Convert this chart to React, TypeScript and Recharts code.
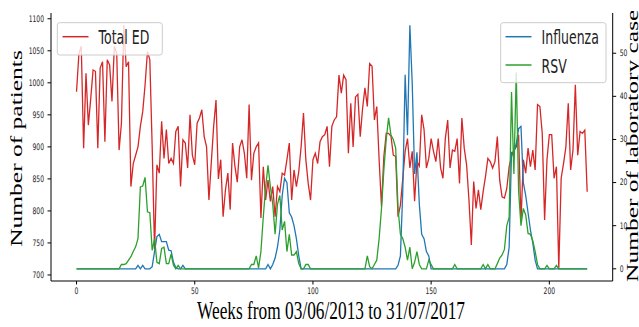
import { LineChart, Line, XAxis, YAxis, Legend } from "recharts";

// weekly counts, week 0 = 03/06/2013
const totalED = [
  986, 1045, 1057, 898, 1015, 934, 975, 1020, 1018, 898,
  1023, 1033, 908, 1036, 1028, 971, 1057, 1046, 895, 937,
  1090, 1025, 1033, 838, 874, 887, 900, 932, 955, 997,
  1049, 1036, 900, 740, 872, 859, 940, 882, 927, 874,
  882, 874, 924, 932, 838, 911, 906, 867, 950, 887,
  872, 937, 945, 958, 916, 900, 817, 875, 932, 973,
  850, 880, 791, 833, 859, 802, 906, 870, 845, 900,
  911, 890, 851, 966, 848, 890, 900, 906, 789, 869,
  817, 848, 815, 838, 791, 838, 830, 859, 856, 880,
  906, 817, 864, 838, 861, 900, 953, 880, 843, 817,
  880, 890, 874, 908, 916, 919, 932, 869, 932, 942,
  947, 1012, 984, 1012, 1005, 890, 968, 900, 978, 982,
  916, 960, 992, 963, 1030, 1026, 942, 963, 880, 807,
  885, 921, 921, 917, 887, 885, 791, 809, 850, 893,
  913, 867, 893, 815, 877, 870, 950, 927, 867, 882,
  913, 893, 877, 913, 867, 851, 913, 942, 867, 895,
  893, 913, 843, 945, 898, 872, 817, 747, 846, 804,
  833, 802, 830, 854, 882, 877, 867, 877, 916, 848,
  822, 820, 835, 869, 885, 895, 900, 919, 783, 880,
  859, 898, 869, 895, 864, 966, 963, 921, 786, 880,
  919, 919, 851, 869, 710, 851, 874, 900, 968, 864,
  895, 997, 887, 924, 921, 926, 830,
];

const influenza = [
  0, 0, 0, 0, 0, 0, 0, 0, 0, 0,
  0, 0, 0, 0, 0, 0, 0, 0, 0, 0,
  0, 0, 0, 0, 0, 0, 0.8, 0, 0.8, 0,
  0, 0, 0.5, 4, 7.5, 8, 6.3, 6.3, 6.3, 4.3,
  4.2, 1.5, 0.3, 0, 0, 0.8, 0, 0, 0, 0,
  0, 0, 0, 0, 0, 0, 0, 0, 0, 0,
  0, 0, 0, 0, 0, 0, 0, 0, 0, 0,
  0, 0, 0, 0, 0, 0, 0, 0, 0, 0,
  0, 1, 0, 1, 2.5, 5, 9, 17, 21, 20,
  13, 12, 10, 7, 3, 0, 0, 0, 0, 0,
  0, 0, 0, 0, 0, 0, 0, 0, 0, 0,
  0, 0, 0, 0, 0, 0, 0, 0, 0, 0,
  0, 0, 0, 0, 0, 0, 0, 0, 0, 0,
  0, 0, 0, 0, 0, 0, 0.8, 3, 18, 45,
  31, 56.5, 43, 22, 27, 15, 8, 7, 4, 3,
  0, 0, 0, 0, 0, 0, 0, 0, 0, 0,
  0, 0, 0, 0, 0, 0, 0, 0, 0, 0,
  0, 0, 0, 0, 0, 0, 0, 0, 0, 0,
  0, 0, 1, 5, 27, 27, 29, 32.5, 33, 20,
  17, 13, 9, 6, 2, 0, 0, 0, 0, 0,
  0, 0, 0, 0, 0, 0, 0, 0, 0, 0,
  0, 0, 0, 0, 0, 0, 0,
];

const rsv = [
  0, 0, 0, 0, 0, 0, 0, 0, 0, 0,
  0, 0, 0, 0, 0, 0, 0, 0, 0, 1,
  1, 1.2, 2, 2.8, 4, 5.1, 7, 19, 19.2, 21.2,
  13.2, 13, 4.3, 7, 1.5, 1.2, 4.7, 5, 1.2, 1.2,
  3.4, 0.8, 0, 0.8, 0, 0, 0, 0, 0, 0,
  0, 0, 0, 0, 0, 0, 0, 0, 0, 0,
  0, 0, 0, 0, 0, 0, 0, 0, 0, 0,
  0, 0, 0, 0, 1, 1, 3, 0.2, 4, 12,
  19, 24, 19, 15, 8, 15, 17, 9, 11, 4,
  8, 3.2, 3.2, 4, 1.2, 0, 0, 1, 1, 0,
  0, 0, 0, 0, 0, 0, 0, 0, 0, 0,
  0, 0, 0, 0, 0, 0, 0, 0, 0, 0,
  0, 0, 0, 3, 0.5, 0, 1, 2, 7, 14,
  23, 30, 35, 31, 30, 28, 14, 8, 7, 5,
  2, 5, 0, 1.5, 4, 1, 0, 0, 0, 2,
  1, 0, 0, 0, 0, 0, 0, 0, 0, 0,
  1, 0, 0, 0, 0, 0, 0, 0, 0, 0,
  0, 0, 1, 0, 1, 0, 0, 0, 1.2, 2.5,
  3.2, 4.5, 10, 12, 41, 22, 45.5, 18, 10, 14,
  12.5, 8.2, 8, 6.5, 4, 1, 0, 0, 0, 0.8,
  0, 0, 0, 0.8, 0, 0, 0, 0, 0, 0,
  0, 0, 0, 0, 0, 0, 0,
];

const weekTicks = [0, 50, 100, 150, 200];
const patientTicks = [700, 750, 800, 850, 900, 950, 1000, 1050, 1100];
const caseTicks = [0, 10, 20, 30, 40, 50];

const RED = "#d62728";
const BLUE = "#1f77b4";
const GREEN = "#2ca02c";
const SQUISH = 0.67; // the source image is squeezed horizontally

const data = totalED.map((ed, i) => ({
  week: i,
  ed,
  flu: influenza[i],
  rsv: rsv[i],
}));

function makeTick(anchor: "start" | "middle" | "end", dy: string) {
  return (props: any) => {
    const { x, y, payload } = props;
    return (
      <text
        transform={`translate(${x},${y}) scale(${SQUISH},1)`}
        textAnchor={anchor}
        dy={dy}
        fontSize={9}
        fontFamily="DejaVu Sans"
        fill="#222"
      >
        {payload.value}
      </text>
    );
  };
}

function LegendBoxes(props: any) {
  const items = props.payload || [];
  const left = items.filter((p: any) => p.value === "Total ED");
  const right = items.filter((p: any) => p.value !== "Total ED");
  const row = (p: any, x: number, y: number) => (
    <g key={p.value}>
      <line x1={x} x2={x + 26} y1={y} y2={y} stroke={p.color} strokeWidth={1.5} />
      <text
        transform={`translate(${x + 36},${y + 7.5}) scale(${SQUISH},1)`}
        fontSize={18.7}
        fontFamily="DejaVu Sans"
        fill="#222"
      >
        {p.value}
      </text>
    </g>
  );
  return (
    <svg width={639} height={327} style={{ position: "absolute", left: 0, top: 0 }}>
      <rect x={57.3} y={22.7} width={105} height={32.3} rx={2.5} fill="#fff" fillOpacity={0.8} stroke="#ccc" />
      {left.map((p: any) => row(p, 62.5, 36.7))}
      <rect x={500.7} y={22.7} width={105.3} height={60} rx={2.5} fill="#fff" fillOpacity={0.8} stroke="#ccc" />
      {right.map((p: any, i: number) => row(p, 505.5, 36.7 + i * 28.3))}
    </svg>
  );
}

export default function App() {
  return (
    <div style={{ position: "absolute", left: 0, top: 0, width: 639, height: 327, background: "#fff" }}>
      <LineChart
        width={639}
        height={327}
        data={data}
        margin={{ top: 13, right: 0, bottom: 16, left: 0 }}
      >
        <XAxis
          dataKey="week"
          type="number"
          domain={[-10.8, 226.8]}
          ticks={weekTicks}
          height={30}
          tickSize={3.5}
          tickMargin={3.5}
          axisLine={{ stroke: "#000" }}
          tickLine={{ stroke: "#000" }}
          tick={makeTick("middle", "0.71em")}
          allowDataOverflow
        />
        <XAxis
          xAxisId="top"
          dataKey="week"
          orientation="top"
          type="number"
          domain={[-10.8, 226.8]}
          height={0}
          tick={false}
          tickLine={false}
          axisLine={{ stroke: "#000" }}
        />
        <YAxis
          yAxisId="left"
          width={51}
          domain={[690.6, 1109]}
          ticks={patientTicks}
          tickSize={3.5}
          tickMargin={3.5}
          axisLine={{ stroke: "#000" }}
          tickLine={{ stroke: "#000" }}
          tick={makeTick("end", "0.32em")}
          allowDataOverflow
        />
        <YAxis
          yAxisId="right"
          orientation="right"
          width={26.3}
          domain={[-2.83, 59.33]}
          ticks={caseTicks}
          tickSize={3.5}
          tickMargin={3.5}
          axisLine={{ stroke: "#000" }}
          tickLine={{ stroke: "#000" }}
          tick={makeTick("start", "0.32em")}
          allowDataOverflow
        />
        <Legend
          layout="horizontal"
          verticalAlign="middle"
          align="center"
          wrapperStyle={{ left: 0, top: 0, width: 639, height: 327, margin: 0, pointerEvents: "none" }}
          content={LegendBoxes}
        />
        <Line
          yAxisId="left"
          dataKey="ed"
          name="Total ED"
          stroke={RED}
          strokeWidth={1.3}
          dot={false}
          type="linear"
          isAnimationActive={false}
        />
        <Line
          yAxisId="right"
          dataKey="flu"
          name="Influenza"
          stroke={BLUE}
          strokeWidth={1.3}
          dot={false}
          type="linear"
          isAnimationActive={false}
        />
        <Line
          yAxisId="right"
          dataKey="rsv"
          name="RSV"
          stroke={GREEN}
          strokeWidth={1.3}
          dot={false}
          type="linear"
          isAnimationActive={false}
        />
      </LineChart>
      <svg
        width={639}
        height={327}
        style={{ position: "absolute", left: 0, top: 0, pointerEvents: "none" }}
      >
        <defs>
          <clipPath id="cropTop">
            <rect x={0} y={11} width={639} height={316} />
          </clipPath>
        </defs>
        <text
          transform={`translate(21.5,148.5) scale(${SQUISH},1) rotate(-90)`}
          textAnchor="middle"
          fontSize={25.5}
          fontFamily="Liberation Serif"
          fill="#000"
        >
          Number of patients
        </text>
        <g clipPath="url(#cropTop)">
          <text
            transform={`translate(638,282) scale(${SQUISH},1) rotate(-90)`}
            textAnchor="start"
            fontSize={25.5}
            fontFamily="Liberation Serif"
            fill="#000"
          >
            Number of laboratory cases
          </text>
        </g>
        <text
          x={197}
          y={319}
          textLength={268}
          lengthAdjust="spacingAndGlyphs"
          fontSize={26}
          fontFamily="Liberation Serif"
          fill="#000"
        >
          Weeks from 03/06/2013 to 31/07/2017
        </text>
      </svg>
    </div>
  );
}
